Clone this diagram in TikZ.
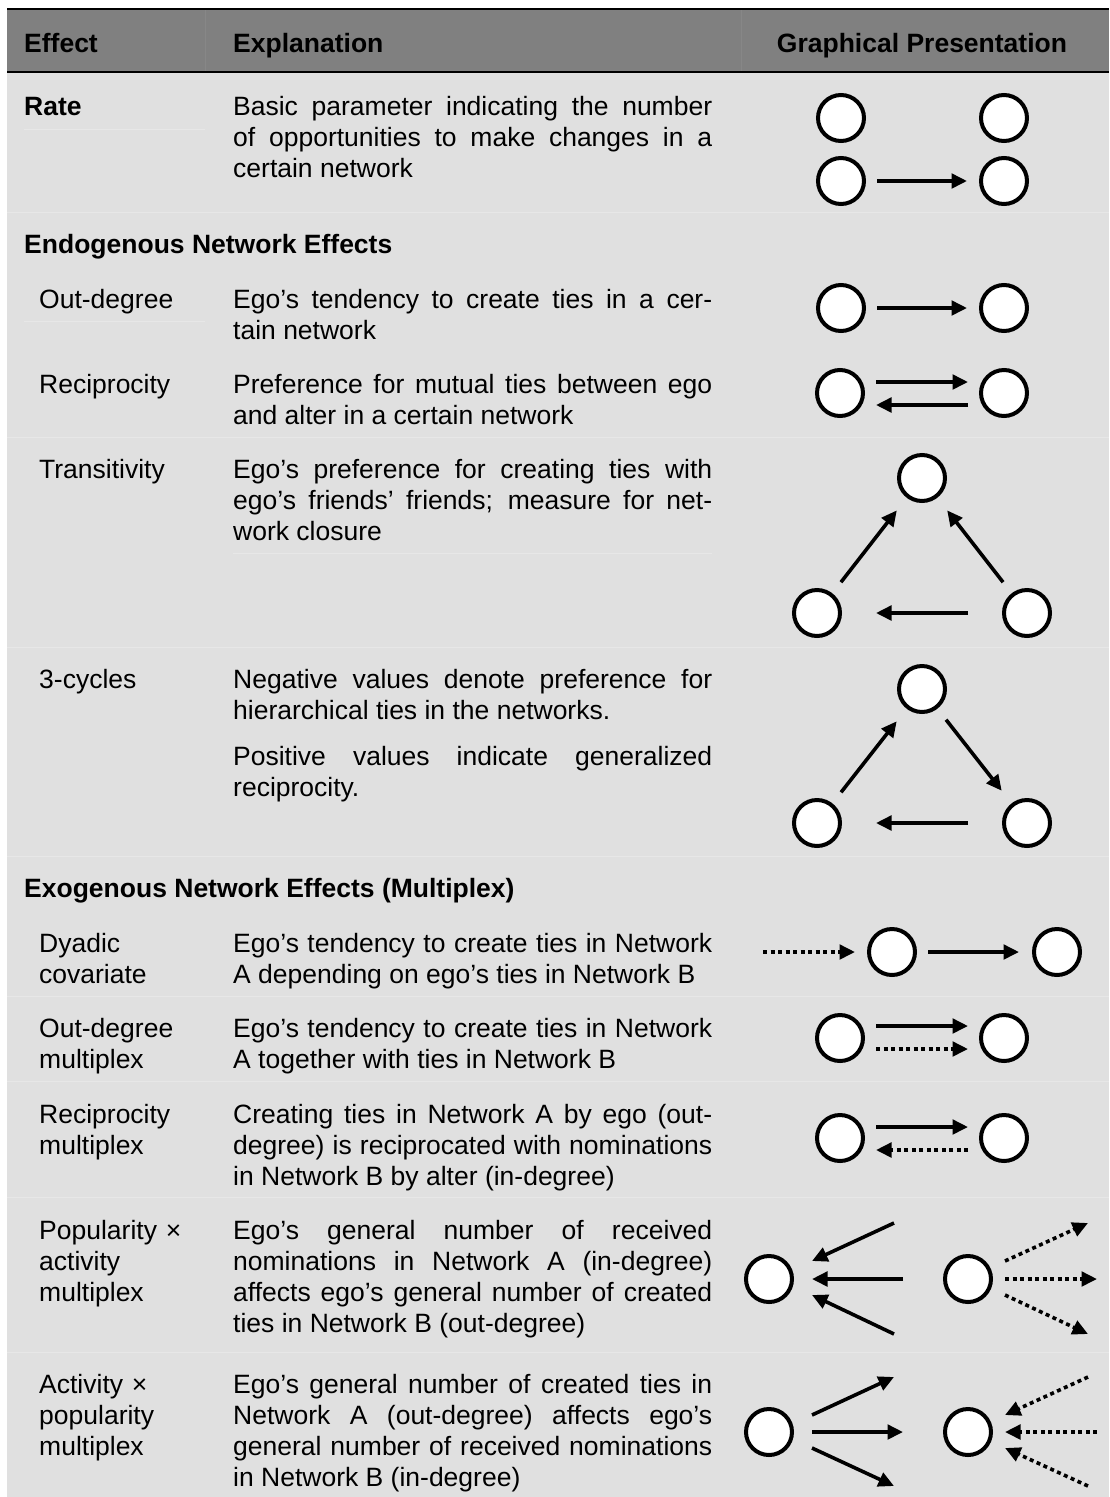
\documentclass[tikz,border=0pt]{standalone}
\usepackage{fontspec}
\setmainfont{Liberation Sans}
\usetikzlibrary{arrows.meta,calc}
\definecolor{hdrgray}{HTML}{808080}
\definecolor{bodygray}{HTML}{E0E0E0}
\definecolor{sepgray}{HTML}{E7E7E7}
\definecolor{hsep}{HTML}{878787}
\newcommand\mainsz{\fontsize{26.5pt}{31pt}\selectfont}
\tikzset{
  nd/.style={circle, draw, fill=white, line width=4pt, minimum size=46pt, inner sep=0pt, outer sep=0pt},
  arr/.style={line width=3.6pt, -{Triangle[length=15.5pt,width=14.5pt]}},
  darr/.style={arr, dash pattern=on 4pt off 3.5pt},
  txt/.style={anchor=base west, inner sep=0pt, align=justify, text width=479pt, font=\mainsz},
  lbl/.style={anchor=base west, inner sep=0pt, align=left, text width=175pt, font=\mainsz},
  hdr/.style={anchor=base west, inner sep=0pt, font=\mainsz\bfseries},
  sep/.style={draw=sepgray, line width=1pt},
}
\begin{document}
\begin{tikzpicture}[x=1pt,y=-1pt]
\useasboundingbox (0,0) rectangle (1109,1497);
% backgrounds
\fill[bodygray] (7,9) rectangle (1109,1497);
\fill[hdrgray] (7,9) rectangle (1109,72);
\draw[hsep, line width=1pt] (205,10) -- (205,71) (741,10) -- (741,71);
\draw[black, line width=1.6pt] (7,9) -- (1109,9);
\draw[black, line width=1.6pt] (7,72) -- (1109,72);
% faint separators
\draw[sep] (24,129) -- (205,129);
\draw[sep] (7,212) -- (1109,212);
\draw[sep] (24,321) -- (205,321);
\draw[sep] (7,437) -- (1109,437);
\draw[sep] (233,553) -- (712,553);
\draw[sep] (7,647) -- (1109,647);
\draw[sep] (7,856) -- (1109,856);
\draw[sep] (7,996) -- (1109,996);
\draw[sep] (7,1081) -- (1109,1081);
\draw[sep] (7,1197) -- (1109,1197);
\draw[sep] (7,1352) -- (1109,1352);
% header
\node[hdr] (hEff) at (24,52) {Effect};
\node[hdr] (hExp) at (233,52) {Explanation};
\node[hdr, anchor=base] (hGra) at (922,52) {Graphical Presentation};
% Rate
\node[hdr] (lRate) at (24,115) {Rate};
\node[txt] (tRate) at (233,115) {Basic parameter indicating the number\linebreak of opportunities to make changes in a\linebreak certain network};
% Endogenous
\node[hdr] (sEndo) at (24,253) {Endogenous Network Effects};
\node[lbl] (lOut) at (39,308) {Out-degree};
\node[txt] (tOut) at (233,308) {Ego’s tendency to create ties in a cer-\linebreak tain network};
\node[lbl] (lRec) at (39,393) {Reciprocity};
\node[txt] (tRec) at (233,393) {Preference for mutual ties between ego\linebreak and alter in a certain network};
\node[lbl] (lTra) at (39,478) {Transitivity};
\node[txt] (tTra) at (233,478) {Ego’s preference for creating ties with\linebreak ego’s friends’ friends; measure for net-\linebreak work closure};
\node[lbl] (lCyc) at (39,688) {3-cycles};
\node[txt] (tCyc) at (233,688) {Negative values denote preference for\linebreak hierarchical ties in the networks.};
\node[txt] (tCyc2) at (233,765) {Positive values indicate generalized\linebreak reciprocity.};
% Exogenous
\node[hdr] (sExo) at (24,897) {Exogenous Network Effects (Multiplex)};
\node[lbl] (lDya) at (39,952) {Dyadic\\covariate};
\node[txt] (tDya) at (233,952) {Ego’s tendency to create ties in Network\linebreak A depending on ego’s ties in Network B};
\node[lbl] (lOdm) at (39,1037) {Out-degree\\multiplex};
\node[txt] (tOdm) at (233,1037) {Ego’s tendency to create ties in Network\linebreak A together with ties in Network B};
\node[lbl] (lRcm) at (39,1123) {Reciprocity\\multiplex};
\node[txt] (tRcm) at (233,1123) {Creating ties in Network A by ego (out-\linebreak degree) is reciprocated with nominations\linebreak in Network B by alter (in-degree)};
\node[lbl] (lPop) at (39,1239) {Popularity ×\\activity\\multiplex};
\node[txt] (tPop) at (233,1239) {Ego’s general number of received\linebreak nominations in Network A (in-degree)\linebreak affects ego’s general number of created\linebreak ties in Network B (out-degree)};
\node[lbl] (lAct) at (39,1393) {Activity ×\\popularity\\multiplex};
\node[txt] (tAct) at (233,1393) {Ego’s general number of created ties in\linebreak Network A (out-degree) affects ego’s\linebreak general number of received nominations\linebreak in Network B (in-degree)};
% ---------- graphics ----------
% Rate
\node[nd] (r1) at (841,118) {};
\node[nd] (r2) at (1004,118) {};
\node[nd] (r3) at (841,181) {};
\node[nd] (r4) at (1004,181) {};
\draw[arr] ($(r3)!36pt!(r4)$) -- ($(r4)!37pt!(r3)$);
% Out-degree
\node[nd] (o1) at (841,308) {};
\node[nd] (o2) at (1004,308) {};
\draw[arr] ($(o1)!36pt!(o2)$) -- ($(o2)!37pt!(o1)$);
% Reciprocity
\node[nd] (c1) at (840,393) {};
\node[nd] (c2) at (1004,393) {};
\draw[arr] ($(c1)!36pt!(c2)+(0,-11)$) -- ($(c2)!36pt!(c1)+(0,-11)$);
\draw[arr] ($(c2)!36pt!(c1)+(0,12)$) -- ($(c1)!36pt!(c2)+(0,12)$);
% Transitivity
\node[nd] (t1) at (922,478) {};
\node[nd] (t2) at (817,613) {};
\node[nd] (t3) at (1027,613) {};
\draw[arr] ($(t2)!39pt!(t1)$) -- ($(t1)!41pt!(t2)$);
\draw[arr] ($(t3)!39pt!(t1)$) -- ($(t1)!41pt!(t3)$);
\draw[arr] ($(t3)!59pt!(t2)$) -- ($(t2)!59pt!(t3)$);
% 3-cycles
\node[nd] (y1) at (922,689) {};
\node[nd] (y2) at (817,823) {};
\node[nd] (y3) at (1027,823) {};
\draw[arr] ($(y2)!39pt!(y1)$) -- ($(y1)!41pt!(y2)$);
\draw[arr] ($(y1)!39pt!(y3)$) -- ($(y3)!41pt!(y1)$);
\draw[arr] ($(y3)!59pt!(y2)$) -- ($(y2)!59pt!(y3)$);
% Dyadic covariate
\coordinate (d0) at (763,952);
\node[nd] (d1) at (892,952) {};
\node[nd] (d2) at (1057,952) {};
\draw[darr] (d0) -- ($(d1)!37pt!(d0)$);
\draw[arr] ($(d1)!36pt!(d2)$) -- ($(d2)!38pt!(d1)$);
% Out-degree multiplex
\node[nd] (m1) at (840,1038) {};
\node[nd] (m2) at (1004,1038) {};
\draw[arr] ($(m1)!36pt!(m2)+(0,-12)$) -- ($(m2)!36pt!(m1)+(0,-12)$);
\draw[darr] ($(m1)!36pt!(m2)+(0,11)$) -- ($(m2)!36pt!(m1)+(0,11)$);
% Reciprocity multiplex
\node[nd] (q1) at (840,1138) {};
\node[nd] (q2) at (1004,1138) {};
\draw[arr] ($(q1)!36pt!(q2)+(0,-11)$) -- ($(q2)!36pt!(q1)+(0,-11)$);
\draw[darr] ($(q2)!36pt!(q1)+(0,12)$) -- ($(q1)!36pt!(q2)+(0,12)$);
% Popularity x activity
\node[nd] (p1) at (769,1279) {};
\node[nd] (p2) at (968,1279) {};
\coordinate (pa) at (894,1223);
\coordinate (pb) at (903,1279);
\coordinate (pc) at (894,1334);
\coordinate (pd) at (1088,1223);
\coordinate (pe) at (1097,1279);
\coordinate (pf) at (1088,1334);
\draw[arr] (pa) -- ($(p1)+(43,-18)$);
\draw[arr] (pb) -- ($(p1)+(43,0)$);
\draw[arr] (pc) -- ($(p1)+(43,16)$);
\draw[darr] ($(p2)+(37,-18)$) -- (pd);
\draw[darr] ($(p2)+(37,0)$) -- (pe);
\draw[darr] ($(p2)+(37,16)$) -- (pf);
% Activity x popularity
\node[nd] (a1) at (769,1432) {};
\node[nd] (a2) at (968,1432) {};
\coordinate (ag) at (894,1377);
\coordinate (ah) at (903,1432);
\coordinate (ai) at (894,1486);
\coordinate (aj) at (1088,1377);
\coordinate (ak) at (1097,1432);
\coordinate (al) at (1088,1486);
\draw[arr] ($(a1)+(43,-17)$) -- (ag);
\draw[arr] ($(a1)+(43,0)$) -- (ah);
\draw[arr] ($(a1)+(43,16)$) -- (ai);
\draw[darr] (aj) -- ($(a2)+(37,-17)$);
\draw[darr] (ak) -- ($(a2)+(37,0)$);
\draw[darr] (al) -- ($(a2)+(37,16)$);
\end{tikzpicture}
\end{document}
